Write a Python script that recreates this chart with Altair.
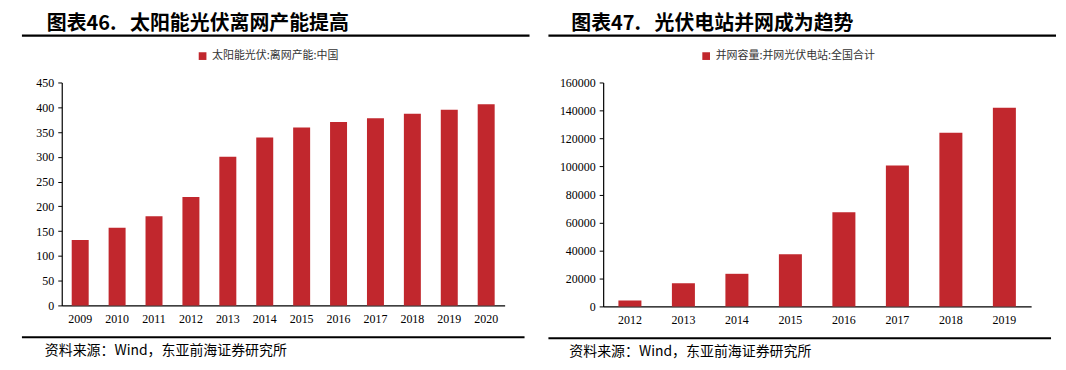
import altair as alt
import pandas as pd

years_a = ["2009", "2010", "2011", "2012", "2013", "2014", "2015", "2016", "2017", "2018", "2019", "2020"]
vals_a = [132, 157, 180, 219, 300, 339, 359, 370, 378, 387, 395, 406]
years_b = ["2012", "2013", "2014", "2015", "2016", "2017", "2018", "2019"]
vals_b = [4200, 16500, 23300, 37200, 67200, 100600, 124000, 142000]

title_a = "图表46.\u00a0\u00a0\u00a0太阳能光伏离网产能提高"
title_b = "图表47.\u00a0\u00a0\u00a0光伏电站并网成为趋势"
series_a = "太阳能光伏:离网产能:中国"
series_b = "并网容量:并网光伏电站:全国合计"
source = "资料来源：Wind，东亚前海证券研究所"

RED = "#C1272D"
SERIF = "Liberation Serif"
CJK = "Noto Sans CJK SC"

df_a = pd.DataFrame({"year": years_a, "v": vals_a, "s": series_a})
df_b = pd.DataFrame({"year": years_b, "v": vals_b, "s": series_b})


def panel(df, series, title, w, h, ymax, ystep, pad_inner, title_x, rule_x1, rule_x2, leg_x, src_x):
    base = alt.Chart(df)
    bars = base.mark_bar(color=RED).encode(
        x=alt.X("year:N", sort=None, title=None,
                scale=alt.Scale(paddingInner=pad_inner, paddingOuter=pad_inner / 2),
                axis=alt.Axis(labelAngle=0, ticks=False, domainColor="#000", domainWidth=1.2,
                              labelFont=SERIF, labelFontSize=12, labelColor="#000", labelPadding=8)),
        y=alt.Y("v:Q", title=None, scale=alt.Scale(domain=[0, ymax], nice=False),
                axis=alt.Axis(values=list(range(0, ymax + 1, ystep)), format="d", grid=False,
                              domainColor="#000", domainWidth=1.2, tickColor="#000", tickSize=4,
                              labelFont=SERIF, labelFontSize=12, labelColor="#000", labelPadding=4)),
        color=alt.Color("s:N", scale=alt.Scale(domain=[series], range=[RED]),
                        legend=alt.Legend(title=None, orient="none", legendX=leg_x, legendY=-32,
                                          symbolType="square", symbolSize=60, labelFont=CJK,
                                          labelFontSize=11, labelColor="#333", symbolStrokeWidth=0,
                                          labelLimit=400)),
    )
    one = alt.Chart(pd.DataFrame({"t": [title]}))
    ttl = one.mark_text(align="left", baseline="alphabetic", font=CJK, fontSize=20,
                        fontWeight="bold", color="#000").encode(
        text="t:N", x=alt.value(title_x), y=alt.value(-53))
    r1 = one.mark_rule(color="#000", strokeWidth=2.2).encode(
        x=alt.value(rule_x1), x2=alt.value(rule_x2), y=alt.value(-47))
    r2 = one.mark_rule(color="#000", strokeWidth=2.2).encode(
        x=alt.value(rule_x1), x2=alt.value(rule_x2 - 5), y=alt.value(h + 32))
    src = alt.Chart(pd.DataFrame({"t": [source]})).mark_text(
        align="left", baseline="middle", font=CJK, fontSize=14, color="#000").encode(
        text="t:N", x=alt.value(src_x), y=alt.value(h + 46))
    return alt.layer(bars, ttl, r1, r2, src).properties(width=w, height=h)


left = panel(df_a, series_a, title_a, 445, 224, 450, 50, 0.54, -15, -40, 470, 136, -17)
right = panel(df_b, series_b, title_b, 430, 225, 160000, 20000, 0.57, -32, -55, 455, 98, -34)

chart = alt.hconcat(left, right, spacing=15).resolve_scale(color="independent").resolve_legend(
    color="independent").properties(
    padding={"left": 12, "top": 5, "right": 0, "bottom": 0}
).configure_view(stroke=None).configure_concat(spacing=15)

chart.save("out.html", embed_options={"renderer": "svg", "actions": False})
